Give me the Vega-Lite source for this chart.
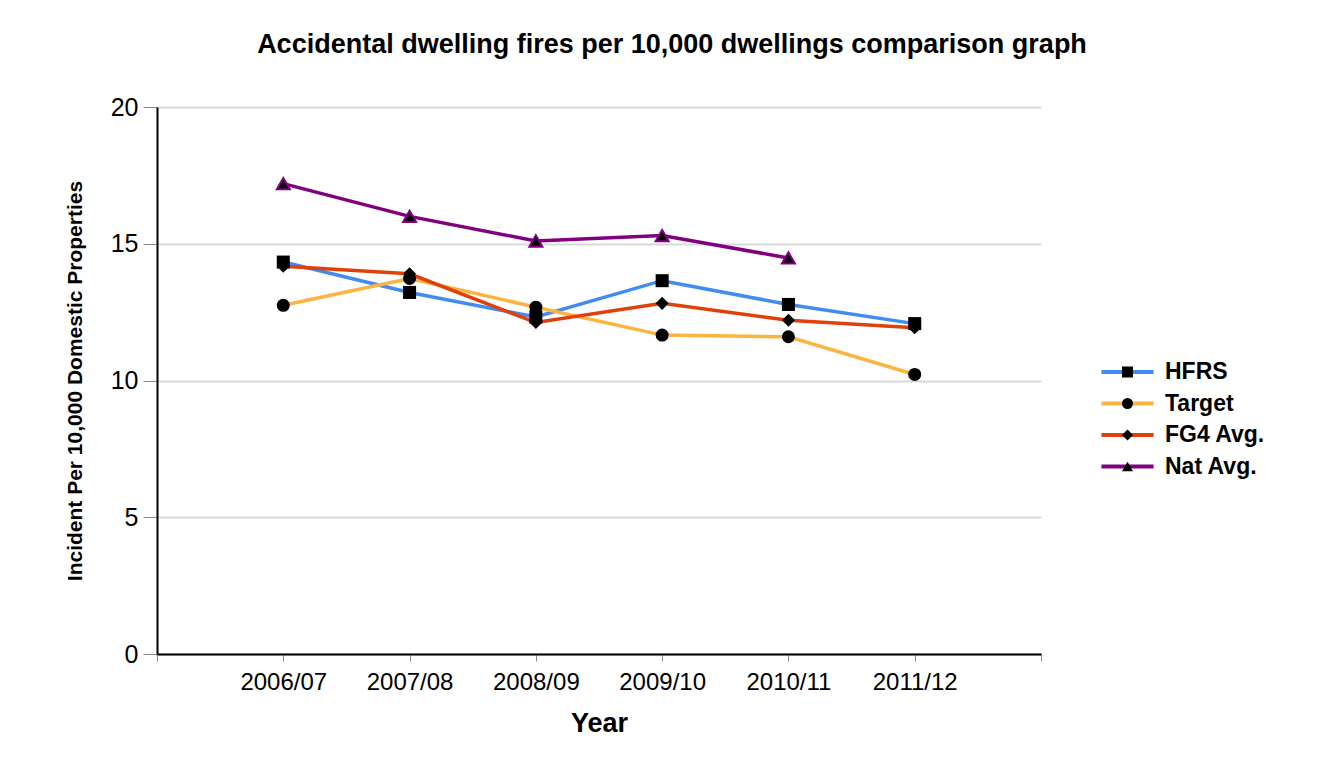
{
  "$schema": "https://vega.github.io/schema/vega-lite/v6.json",
  "autosize": "none",
  "width": 884,
  "height": 547,
  "padding": {"left": 157, "top": 107, "right": 297, "bottom": 110},
  "background": "white",
  "config": {
    "font": "Liberation Sans",
    "view": {"stroke": null},
    "axis": {"labelColor": "black", "titleColor": "black", "labelFont": "Liberation Sans", "titleFont": "Liberation Sans"},
    "legend": {"labelFont": "Liberation Sans"}
  },
  "title": {
    "text": "Accidental dwelling fires per 10,000 dwellings comparison graph",
    "font": "Liberation Sans",
    "fontSize": 27,
    "fontWeight": "bold",
    "color": "black",
    "anchor": "middle",
    "frame": "group",
    "dx": 73,
    "offset": 36
  },
  "data": {
    "values": [
      {"year": "2006/07", "series": "HFRS", "value": 14.33},
      {"year": "2007/08", "series": "HFRS", "value": 13.22},
      {"year": "2008/09", "series": "HFRS", "value": 12.32},
      {"year": "2009/10", "series": "HFRS", "value": 13.65},
      {"year": "2010/11", "series": "HFRS", "value": 12.78},
      {"year": "2011/12", "series": "HFRS", "value": 12.08},
      {"year": "2006/07", "series": "Target", "value": 12.75},
      {"year": "2007/08", "series": "Target", "value": 13.73},
      {"year": "2008/09", "series": "Target", "value": 12.68},
      {"year": "2009/10", "series": "Target", "value": 11.66},
      {"year": "2010/11", "series": "Target", "value": 11.6},
      {"year": "2011/12", "series": "Target", "value": 10.22},
      {"year": "2006/07", "series": "FG4 Avg.", "value": 14.18},
      {"year": "2007/08", "series": "FG4 Avg.", "value": 13.9},
      {"year": "2008/09", "series": "FG4 Avg.", "value": 12.12},
      {"year": "2009/10", "series": "FG4 Avg.", "value": 12.82},
      {"year": "2010/11", "series": "FG4 Avg.", "value": 12.2},
      {"year": "2011/12", "series": "FG4 Avg.", "value": 11.93},
      {"year": "2006/07", "series": "Nat Avg.", "value": 17.2},
      {"year": "2007/08", "series": "Nat Avg.", "value": 16.0},
      {"year": "2008/09", "series": "Nat Avg.", "value": 15.1},
      {"year": "2009/10", "series": "Nat Avg.", "value": 15.3},
      {"year": "2010/11", "series": "Nat Avg.", "value": 14.48}
    ]
  },
  "encoding": {
    "x": {
      "field": "year",
      "type": "ordinal",
      "scale": {"type": "point", "domain": ["", "2006/07", "2007/08", "2008/09", "2009/10", "2010/11", "2011/12", " "], "padding": 0},
      "axis": {
        "title": "Year",
        "titleFontSize": 27,
        "titleFontWeight": "bold",
        "titlePadding": 16,
        "labelFontSize": 24,
        "labelAngle": 0,
        "labelPadding": 9,
        "tickSize": 7,
        "tickColor": "#888888",
        "tickWidth": 1,
        "domainColor": "black",
        "domainWidth": 2,
        "grid": false
      }
    },
    "y": {
      "field": "value",
      "type": "quantitative",
      "scale": {"domain": [0, 20], "nice": false, "zero": true},
      "axis": {
        "title": "Incident Per 10,000 Domestic Properties",
        "titleFontSize": 21,
        "titleFontWeight": "bold",
        "titlePadding": 25,
        "values": [0, 5, 10, 15, 20],
        "labelFontSize": 25,
        "labelPadding": 5,
        "tickSize": 14,
        "tickColor": "#888888",
        "tickWidth": 1,
        "domainColor": "black",
        "domainWidth": 2,
        "grid": true,
        "gridColor": "#d9d9d9",
        "gridWidth": 2
      }
    }
  },
  "layer": [
    {
      "mark": {"type": "line", "strokeWidth": 3.5},
      "encoding": {
        "color": {
          "field": "series",
          "type": "nominal",
          "scale": {"domain": ["HFRS", "Target", "FG4 Avg.", "Nat Avg."], "range": ["#418CF0", "#FCB441", "#E0400A", "#800080"]},
          "legend": {
            "title": null,
            "orient": "none",
            "legendX": 959,
            "legendY": 253.5,
            "padding": 0,
            "symbolType": "M-4,0H4",
            "symbolSize": 576,
            "symbolStrokeWidth": 4,
            "symbolOffset": 0,
            "labelOffset": 26,
            "labelFontSize": 23,
            "labelFontWeight": "bold",
            "labelColor": "black",
            "rowPadding": 7.5
          }
        }
      }
    },
    {
      "mark": {"type": "point", "filled": true, "color": "black", "strokeWidth": 2, "opacity": 1},
      "encoding": {
        "shape": {
          "field": "series",
          "type": "nominal",
          "sort": ["HFRS", "Target", "FG4 Avg.", "Nat Avg."],
          "scale": {"range": ["square", "circle", "diamond", "triangle-up"]},
          "legend": {
            "title": null,
            "orient": "none",
            "legendX": 959,
            "legendY": 253.5,
            "padding": 0,
            "symbolSize": 121,
            "symbolFillColor": "black",
            "symbolStrokeColor": "black",
            "symbolStrokeWidth": 0,
            "symbolOffset": 0,
            "labelOffset": 26,
            "labelFontSize": 23,
            "labelFontWeight": "bold",
            "labelOpacity": 0,
            "labelColor": "transparent",
            "rowPadding": 7.5
          }
        },
        "size": {
          "field": "series",
          "type": "nominal",
          "scale": {"domain": ["HFRS", "Target", "FG4 Avg.", "Nat Avg."], "range": [170, 170, 130, 250]},
          "legend": null
        },
        "stroke": {
          "condition": {"test": "datum.series === 'Nat Avg.'", "value": "#800080"},
          "value": "black"
        },
        "strokeWidth": {
          "condition": {"test": "datum.series === 'Nat Avg.'", "value": 2},
          "value": 0
        }
      }
    }
  ]
}
